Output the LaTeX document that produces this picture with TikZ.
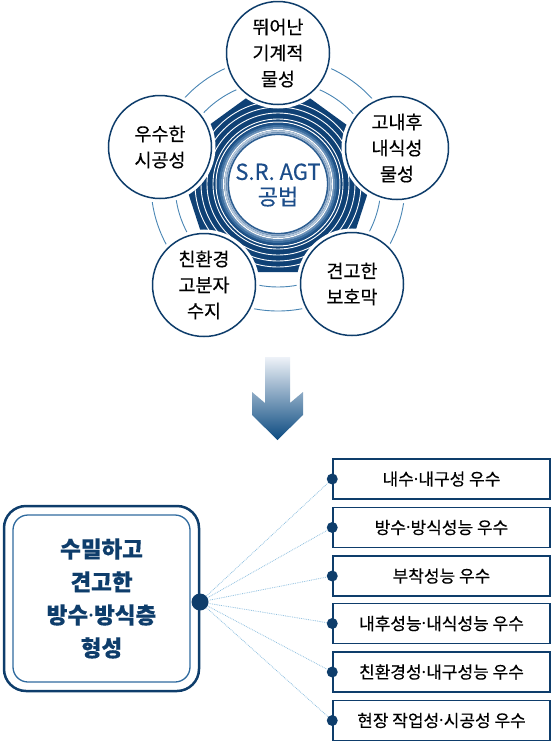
\documentclass[tikz,border=0pt]{standalone}
\usepackage{fontspec}
\setmainfont{Noto Sans CJK KR}[FakeBold=0.35]
\newfontfamily\latfont{Noto Sans}
\newcommand\kdot{{\latfont ·}}
\definecolor{navy}{HTML}{0E3D6B}
\definecolor{deep}{HTML}{0F4175}
\definecolor{ctxt}{HTML}{1C4D8A}
\definecolor{ringc}{HTML}{4A86B4}
\definecolor{connc}{HTML}{8EBFDF}
\definecolor{innerc}{HTML}{2F6A9E}
\definecolor{tubeA}{HTML}{1D5187}
\definecolor{tubeB}{HTML}{3C6E9F}
\definecolor{tubeC}{HTML}{6B92BA}
\definecolor{tubeD}{HTML}{B5C8DC}
\definecolor{tubeE}{HTML}{8DA9C8}
\definecolor{tubeF}{HTML}{2B5D91}
\definecolor{arrtop}{HTML}{EEF2F8}
\definecolor{arrmid}{HTML}{2A6199}
\definecolor{arrbot}{HTML}{0B4A80}
\begin{document}
\begin{tikzpicture}[x=1pt,y=-1pt,
  sat/.style={circle, draw=navy, line width=1.5pt, fill=white, minimum size=103pt, inner sep=0pt,
    align=center, font=\fontsize{18.5}{26}\selectfont,
    preaction={draw=white, line width=8pt}},
  rbox/.style={draw=navy, line width=1.5pt, fill=white, minimum width=217pt, minimum height=40pt,
    inner sep=0pt, font=\fontsize{17}{20}\selectfont},
  sdot/.style={circle, fill=navy, minimum size=11pt, inner sep=0pt},
  conn/.style={connc, line width=0.8pt, densely dotted},
  thinring/.style={ringc, line width=0.9pt},
  stripe/.style={white, line width=0.9pt}]
\useasboundingbox (0,0) rectangle (558,745);

% ---------- top figure ----------
\begin{scope}[shift={(278,184)}]
  \draw[thinring] (0,0) circle (127pt);
  \draw[thinring] (0,0) circle (103pt);
  \fill[deep] (-90:109) -- (-18:109) -- (54:109) -- (126:109) -- (198:109) -- cycle;
  \foreach \r in {65,71,77,83} \draw[stripe] (0,0) circle (\r pt);
  \draw[white, line width=1pt] (0,0) circle (62pt);
  \draw[tubeA, line width=2pt] (0,0) circle (60pt);
  \draw[tubeB, line width=2pt] (0,0) circle (58pt);
  \draw[tubeC, line width=2pt] (0,0) circle (56pt);
  \draw[white, line width=1.2pt] (0,0) circle (54.4pt);
  \draw[tubeD, line width=2pt] (0,0) circle (52.8pt);
  \draw[tubeE, line width=1.5pt] (0,0) circle (51pt);
  \fill[white] (0,0) circle (49.5pt);
  \draw[tubeF, line width=1.2pt] (0,0) circle (49.5pt);
\end{scope}

\node[text=ctxt, align=center, font=\fontsize{22}{25}\selectfont] (ctr) at (278,185) {S.R. AGT\\공법};

\node[sat] (s1) at (278,53) {뛰어난\\기계적\\물성};
\node[sat] (s2) at (397,148) {고내후\\내식성\\물성};
\node[sat] (s3) at (160,147) {우수한\\시공성};
\node[sat] (s4) at (204,285) {친환경\\고분자\\수지};
\node[sat] (s5) at (352,284) {견고한\\보호막};

% ---------- arrow ----------
\shade[top color=arrtop, middle color=arrmid, bottom color=arrbot]
  (265,357) -- (290,357) -- (290,403) -- (303,392) -- (303,415) -- (277.5,440)
  -- (252,415) -- (252,392) -- (265,403) -- cycle;

% ---------- bottom ----------
\node[draw=navy, line width=2.5pt, rounded corners=22pt, minimum width=195pt, minimum height=185pt]
  (mbo) at (101.5,598.5) {};
\node[draw=innerc, line width=1.3pt, rounded corners=15pt, minimum width=177pt, minimum height=167pt,
  align=center, text=navy, font=\fontsize{22.5}{33}\selectfont\bfseries]
  (mb) at (101.5,598.5) {수밀하고\\견고한\\방수\kdot 방식층\\형성};
\node[circle, fill=navy, minimum size=17pt, inner sep=0pt] (md) at (200,602) {};

\node[rbox] (b1) at (441.5,479) {내수\kdot 내구성 우수};
\node[rbox] (b2) at (441.5,527.5) {방수\kdot 방식성능 우수};
\node[rbox] (b3) at (441.5,576) {부착성능 우수};
\node[rbox] (b4) at (441.5,623.5) {내후성능\kdot 내식성능 우수};
\node[rbox] (b5) at (441.5,672) {친환경성\kdot 내구성능 우수};
\node[rbox] (b6) at (441.5,720.5) {현장 작업성\kdot 시공성 우수};

\foreach \i in {1,...,6} {
  \node[sdot] (d\i) at (b\i.west) {};
  \draw[conn] (md) -- (d\i);
}
\end{tikzpicture}
\end{document}
